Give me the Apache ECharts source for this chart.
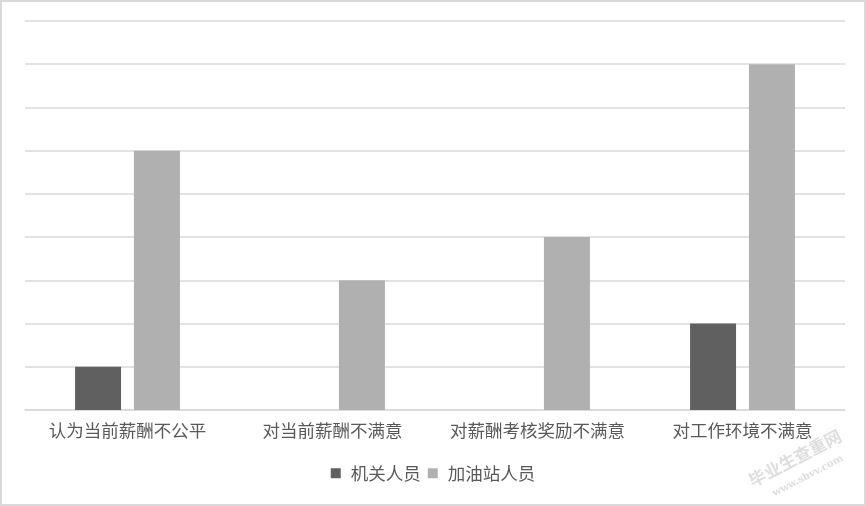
<!DOCTYPE html>
<html>
<head>
<meta charset="utf-8">
<script src="https://cdn.jsdelivr.net/npm/echarts@6/dist/echarts.min.js"></script>
<style>
html,body{margin:0;padding:0;background:#fff;}
#wrap{position:relative;width:866px;height:506px;}
#chart{position:absolute;left:0;top:0;width:866px;height:506px;}
#frame{position:absolute;left:0;top:0;width:866px;height:506px;box-sizing:border-box;border:2px solid #d9d9d9;pointer-events:none;}
</style>
</head>
<body>
<div id="wrap"><div id="chart"></div><div id="frame"></div></div>
<script>
const categories = ['认为当前薪酬不公平', '对当前薪酬不满意', '对薪酬考核奖励不满意', '对工作环境不满意'];
const seriesNames = ['机关人员', '加油站人员'];
const jiguanValues = [1, 0, 0, 2];
const jiayouzhanValues = [6, 3, 4, 8];

const font = '"Noto Sans CJK SC", sans-serif';
const chart = echarts.init(document.getElementById('chart'), null, {renderer: 'canvas'});
chart.setOption({
  animation: false,
  backgroundColor: '#ffffff',
  grid: {left: 25, right: 21, top: 21, bottom: 96, containLabel: false},
  legend: {
    data: seriesNames,
    bottom: 19,
    left: 'center',
    itemWidth: 10,
    itemHeight: 10,
    itemGap: 7,
    icon: 'rect',
    textStyle: {color: '#595959', fontSize: 17.5, fontFamily: font, padding: [0, 0, 0, 5]}
  },
  xAxis: {
    type: 'category',
    data: categories,
    axisLine: {show: true, lineStyle: {color: '#d9d9d9', width: 1.5}},
    axisTick: {show: false},
    axisLabel: {color: '#595959', fontSize: 17.5, fontFamily: font, margin: 12, interval: 0}
  },
  yAxis: {
    type: 'value',
    min: 0,
    max: 9,
    interval: 1,
    axisLine: {show: false},
    axisTick: {show: false},
    axisLabel: {show: false},
    splitLine: {lineStyle: {color: '#d9d9d9', width: 1.5}}
  },
  series: [
    {name: seriesNames[0], type: 'bar', data: jiguanValues, barWidth: 46, barGap: '28%', itemStyle: {color: '#606060'}},
    {name: seriesNames[1], type: 'bar', data: jiayouzhanValues, barWidth: 46, itemStyle: {color: '#b0b0b0'}}
  ],
  graphic: [
    {type: 'text', x: 795, y: 458, rotation: Math.PI / 6.5, style: {text: '毕业生查重网', fill: 'rgba(200,200,200,0.6)', font: 'bold 17px ' + font, textAlign: 'center', textVerticalAlign: 'middle'}},
    {type: 'text', x: 808, y: 476, rotation: Math.PI / 6.5, style: {text: 'www.sbvv.com', fill: 'rgba(200,200,200,0.6)', font: 'bold 10px "DejaVu Serif", serif', textAlign: 'center', textVerticalAlign: 'middle'}}
  ]
});
</script>
</body>
</html>
